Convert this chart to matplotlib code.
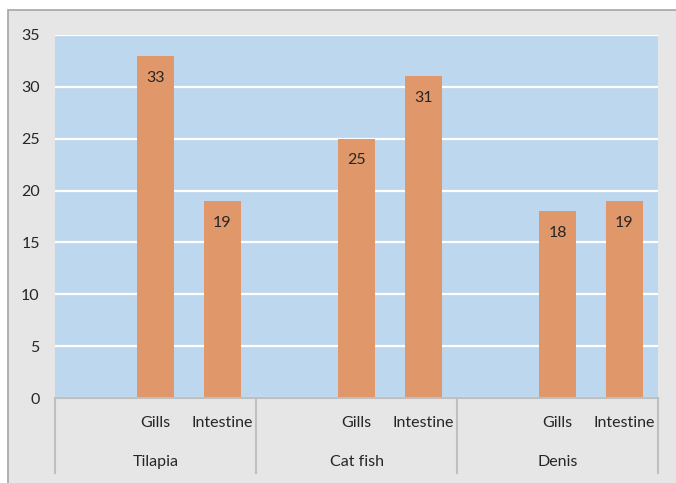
import matplotlib
matplotlib.use('Agg')
import matplotlib.pyplot as plt
from matplotlib.patches import Rectangle
from matplotlib.transforms import blended_transform_factory

plt.rcParams['font.family'] = ['Lato', 'DejaVu Sans']

fish = ['Tilapia', 'Cat fish', 'Denis']
organs = ['Gills', 'Intestine']
counts = [[33, 19], [25, 31], [18, 19]]
y_ticks = [0, 5, 10, 15, 20, 25, 30, 35]

BAR_COLOR = '#e0976a'
PLOT_BG = '#bdd7ee'
FIG_BG = '#e7e6e6'
TEXT = '#262626'
FS = 11.5

fig = plt.figure(figsize=(6.76, 4.83), dpi=100)
fig.patch.set_facecolor('white')
fig.patches.append(Rectangle((8 / 676, -0.1), 1.1, 1 - 10 / 483 + 0.1,
                             transform=fig.transFigure, facecolor=FIG_BG,
                             edgecolor='#a6a6a6', linewidth=1.2, zorder=-10))

ax = fig.add_axes([55 / 676, 85 / 483, 603 / 676, 363 / 483])
ax.set_facecolor(PLOT_BG)

slots_per_group = len(organs) + 1
xs, heights = [], []
for g, vals in enumerate(counts):
    for i, v in enumerate(vals):
        xs.append(g * slots_per_group + 1 + i)
        heights.append(v)

ax.bar(xs, heights, width=0.55, color=BAR_COLOR, zorder=3)
for x, h in zip(xs, heights):
    ax.text(x, h - 2.1, str(h), ha='center', va='center', fontsize=FS,
            color=TEXT, zorder=4)

n_slots = slots_per_group * len(fish)
ax.set_xlim(-0.5, n_slots - 0.5)
ax.set_ylim(0, 35)
ax.set_yticks(y_ticks)
ax.set_xticks([])
ax.tick_params(axis='y', length=0, pad=11, labelsize=FS, labelcolor=TEXT)
ax.grid(axis='y', color='white', linewidth=1.6, zorder=1)
for spine in ax.spines.values():
    spine.set_visible(False)

# two-level category axis
trans = blended_transform_factory(ax.transData, ax.transAxes)
px = 1 / 363
ax.plot([-0.5, n_slots - 0.5], [0, 0], transform=trans, color='#bfbfbf',
        linewidth=1.5, clip_on=False, zorder=5)
for g in range(len(fish) + 1):
    xb = g * slots_per_group - 0.5
    ax.plot([xb, xb], [0, -75 * px], transform=trans, color='#bfbfbf',
            linewidth=1.5, clip_on=False)
for g, name in enumerate(fish):
    for i, organ in enumerate(organs):
        ax.text(g * slots_per_group + 1 + i, -25 * px, organ, transform=trans,
                ha='center', va='center', fontsize=FS, color=TEXT)
    ax.text(g * slots_per_group + 1, -64 * px, name, transform=trans,
            ha='center', va='center', fontsize=FS, color=TEXT)

fig.savefig('out.png', dpi=100)
